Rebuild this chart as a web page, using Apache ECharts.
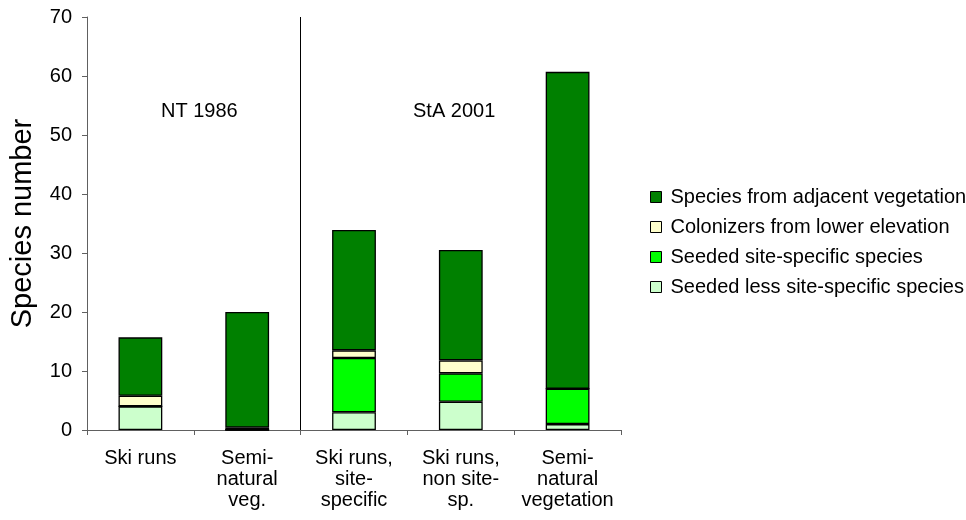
<!DOCTYPE html>
<html><head><meta charset="utf-8">
<script src="https://cdn.jsdelivr.net/npm/echarts@6/dist/echarts.min.js"></script>
<style>html,body{margin:0;padding:0;background:#fff}#c{width:966px;height:520px}</style>
</head><body><div id="c"></div>
<script>
const categories = ["Ski runs", "Semi-\nnatural\nveg.", "Ski runs,\nsite-\nspecific", "Ski runs,\nnon site-\nsp.", "Semi-\nnatural\nvegetation"];
const seededLess = [4.0, 0, 3.0, 4.8, 1.0];
const seededSite = [0, 0, 9.2, 4.8, 6.0];
const colonizers = [1.8, 0.4, 1.3, 2.2, 0];
const adjacent = [9.9, 19.6, 20.4, 18.7, 53.7];
const yTicks = [0, 10, 20, 30, 40, 50, 60, 70];
const periodLabels = ["NT 1986", "StA 2001"];
const seriesNames = ["Seeded less site-specific species", "Seeded site-specific species", "Colonizers from lower elevation", "Species from adjacent vegetation"];
const colors = ["#CCFFCC", "#00FF00", "#FFFFCC", "#008000"];

const chart = echarts.init(document.getElementById('c'), null, {renderer: 'canvas'});
const font = '"Liberation Sans", Arial, sans-serif';
const values = [seededLess, seededSite, colonizers, adjacent];
const series = values.map((v, i) => ({
  name: seriesNames[i], type: 'bar', stack: 'total', data: v,
  barWidth: '41%',
  itemStyle: {color: colors[i], borderColor: '#000', borderWidth: 1.3},
  emphasis: {disabled: true}
}));
series.push({
  type: 'scatter', xAxisIndex: 1, data: [], silent: true,
  markLine: {symbol: 'none', silent: true, label: {show: false},
    lineStyle: {color: '#000', width: 1, type: 'solid'},
    data: [{xAxis: 2}]}
});
chart.setOption({
  animation: false,
  backgroundColor: '#fff',
  textStyle: {fontFamily: font},
  grid: {left: 86, right: 345, top: 17, bottom: 90},
  legend: {
    orient: 'vertical', left: 645, top: 182,
    data: seriesNames.slice().reverse(),
    itemWidth: 11, itemHeight: 11, itemGap: 10,
    icon: 'rect',
    itemStyle: {borderColor: '#000', borderWidth: 1},
    textStyle: {fontSize: 20, color: '#000', fontFamily: font, padding: [0, 0, 0, 4]},
    selectedMode: false
  },
  xAxis: [{
    type: 'category', data: categories,
    axisLine: {lineStyle: {color: '#606060'}},
    axisTick: {show: true, length: 5, lineStyle: {color: '#606060'}},
    axisLabel: {color: '#000', fontSize: 20, lineHeight: 21, margin: 18, interval: 0, fontFamily: font}
  }, {
    type: 'value', min: 0, max: 5, show: false
  }],
  yAxis: {
    type: 'value', min: 0, max: 70, interval: 10,
    name: 'Species number', nameLocation: 'middle', nameGap: 50,
    nameTextStyle: {fontSize: 29, color: '#000', fontFamily: font},
    axisLine: {show: true, lineStyle: {color: '#606060'}},
    axisTick: {show: true, length: 5, lineStyle: {color: '#606060'}},
    axisLabel: {color: '#000', fontSize: 20, margin: 15, fontFamily: font,
      formatter: v => yTicks.includes(v) ? String(v) : ''},
    splitLine: {show: false}
  },
  graphic: [
    {type: 'text', left: 161, top: 101, style: {text: periodLabels[0], font: '20px ' + font, fill: '#000'}},
    {type: 'text', left: 413, top: 101, style: {text: periodLabels[1], font: '20px ' + font, fill: '#000'}}
  ],
  series: series
});
</script></body></html>
